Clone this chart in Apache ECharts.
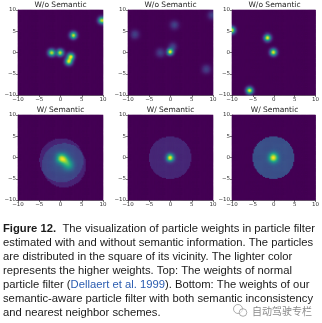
<!DOCTYPE html>
<html><head><meta charset="utf-8">
<script src="https://cdn.jsdelivr.net/npm/echarts@6/dist/echarts.min.js"></script>
<style>html,body{margin:0;padding:0;background:#fff}#c{width:322px;height:323px}</style>
</head><body><div id="c"></div>
<script>
// ---------------- data ----------------
const panelTitles = ['W/o Semantic','W/o Semantic','W/o Semantic','W/ Semantic','W/ Semantic','W/ Semantic'];
const axisTickValues = [-10,-5,0,5,10];
// particle weight peaks: [x, y, amplitude, spread]
const peaksTopLeft  = [[-2,0,1,0.55],[0,0,1,0.55],[2.5,-0.9,1,0.55],[2,-2.1,1,0.55],[3.1,4.1,1,0.55],[9.8,7.6,1,0.55]];
const peaksTopMid   = [[0,0.2,1,0.5],[0.6,1.4,0.2,0.65],[1,6.5,0.2,0.7],[-8.3,4.3,0.2,0.7],[-2.3,0,0.2,0.7],[8.5,-3.9,0.2,0.7],[9.9,8.8,0.2,0.7]];
const peaksTopRight = [[-1.4,3.5,1,0.55],[0,0.1,1,0.55],[-5.7,-8.9,1,0.55],[-10,5.3,1,0.55]];
const peaksBotLeft  = [[0.2,-0.1,0.8,0.8],[1.2,-0.6,0.5,0.8],[2,-1.8,0.45,0.8],[0.8,-1.2,0.12,2.2]];
const peaksBotMid   = [[0,0,1,0.6]];
const peaksBotRight = [[0,0,1,0.75]];
// vicinity discs: [x, y, radius, level]
const discsTopLeft = [], discsTopMid = [], discsTopRight = [];
const discsBotLeft  = [[0.3,-0.6,5.2,0.14],[0.9,-1.8,5.2,0.14]];
const discsBotMid   = [[0,0,5,0.12]];
const discsBotRight = [[0,0,5,0.33]];
const panelPeaks = [peaksTopLeft, peaksTopMid, peaksTopRight, peaksBotLeft, peaksBotMid, peaksBotRight];
const panelDiscs = [discsTopLeft, discsTopMid, discsTopRight, discsBotLeft, discsBotMid, discsBotRight];
const captionLines = [
  [['b','Figure 12.'],['n','  The visualization of particle weights in particle filter']],
  [['n','estimated with and without semantic information. The particles']],
  [['n','are distributed in the square of its vicinity. The lighter color']],
  [['n','represents the higher weights. Top: The weights of normal']],
  [['n','particle filter ('],['l','Dellaert et al. 1999'],['n','). Bottom: The weights of our']],
  [['n','semantic-aware particle filter with both semantic inconsistency']],
  [['n','and nearest neighbor schemes.']]
];
const watermarkText = '自动驾驶专栏';

// ---------------- layout ----------------
const N = 80, STEP = 0.25;
const colLeft = [18,128,232], rowTop = [10,115], SIZE = 85;
const viridis = ['#440154','#482475','#414487','#355f8d','#2a788e','#21918c','#22a884','#44bf70','#7ad151','#bddf26','#fde725'];
const cats = []; for (let i=0;i<N;i++) cats.push(String(-10+STEP*(i+0.5)));

function cellValue(p, x, y){
  let v = 0;
  for (const [cx,cy,a,s] of panelPeaks[p]) { const d2=(x-cx)**2+(y-cy)**2; v += a*Math.exp(-d2/(2*s*s)); }
  for (const [cx,cy,r,l] of panelDiscs[p]) { if ((x-cx)**2+(y-cy)**2 <= r*r) v += l; }
  return v;
}

const grid=[], xAxis=[], yAxis=[], series=[], visualMap=[], title=[];
const lbl = {fontSize:5.5, color:'#333', fontFamily:'DejaVu Sans', margin:2, formatter:v=>String(v).replace('-','\u2212')};
for (let p=0;p<6;p++){
  const left = colLeft[p%3], top = rowTop[Math.floor(p/3)];
  grid.push({left, top, width:SIZE, height:SIZE, show:true, backgroundColor:'#440154', borderWidth:0});
  xAxis.push({type:'category', gridIndex:p, data:cats, show:false, boundaryGap:true});
  yAxis.push({type:'category', gridIndex:p, data:cats, show:false, boundaryGap:true});
  xAxis.push({type:'value', gridIndex:p, min:-10, max:10, interval:5, position:'bottom',
    axisLine:{show:true, onZero:false, lineStyle:{color:'#222', width:0.6}},
    axisTick:{show:true, length:2, lineStyle:{color:'#222', width:0.6}},
    splitLine:{show:false}, axisLabel:lbl});
  yAxis.push({type:'value', gridIndex:p, min:-10, max:10, interval:5, position:'left',
    axisLine:{show:true, onZero:false, lineStyle:{color:'#222', width:0.6}},
    axisTick:{show:true, length:2, lineStyle:{color:'#222', width:0.6}},
    splitLine:{show:false}, axisLabel:lbl});
  const data=[]; let mx=0;
  for (let i=0;i<N;i++) for (let j=0;j<N;j++){
    const v = cellValue(p, -10+STEP*(i+0.5), -10+STEP*(j+0.5));
    if (v>mx) mx=v; data.push([i,j,v]);
  }
  series.push({type:'heatmap', xAxisIndex:2*p, yAxisIndex:2*p, data, progressive:0, animation:false,
    itemStyle:{borderWidth:0}, emphasis:{disabled:true}});
  visualMap.push({type:'continuous', show:false, seriesIndex:p, min:0, max:mx, dimension:2, inRange:{color:viridis}});
  title.push({text:panelTitles[p], left:left+SIZE/2, top:top-9, padding:0, textAlign:'center',
    textStyle:{fontSize:7.5, fontWeight:'normal', color:'#222', fontFamily:'DejaVu Sans'}});
}

// caption
const FS = 11.5, FF = '"Liberation Sans", Arial, sans-serif';
const ctx = document.createElement('canvas').getContext('2d');
function segW(kind, t){ ctx.font = (kind==='b'?'bold ':'')+FS+'px '+FF; return ctx.measureText(t).width; }
let w1 = 0; for (const [k,t] of captionLines[0]) w1 += segW(k,t);
const sx = 312 / w1;
const rich = {
  b:{fontSize:FS, fontFamily:FF, fontWeight:'bold', fill:'#1a1a1a'},
  n:{fontSize:FS, fontFamily:FF, fill:'#1a1a1a'},
  l:{fontSize:FS, fontFamily:FF, fill:'#2a5cb0'}
};
const graphic = [];
captionLines.forEach((segs, i) => {
  graphic.push({type:'text', x:3, y:229 + i*14.05, scaleX:sx, silent:true,
    style:{text:segs.map(([k,t])=>'{'+k+'|'+t+'}').join(''), rich, fontSize:FS, fontFamily:FF, fill:'#1a1a1a', verticalAlign:'middle'}});
});
graphic.push({type:'circle', shape:{cx:238, cy:309, r:4.5}, style:{fill:'rgba(255,255,255,0.6)', stroke:'#999', lineWidth:0.8}});
graphic.push({type:'circle', shape:{cx:243, cy:312.5, r:3.8}, style:{fill:'rgba(255,255,255,0.6)', stroke:'#999', lineWidth:0.8}});
graphic.push({type:'text', x:252, y:311, style:{text:watermarkText, fontSize:10, fontFamily:'"Noto Sans CJK SC"', fill:'#8a8a8a', verticalAlign:'middle'}});

const chart = echarts.init(document.getElementById('c'), null, {renderer:'canvas'});
chart.setOption({animation:false, backgroundColor:'#fff', title, grid, xAxis, yAxis, visualMap, series, graphic});
</script></body></html>
